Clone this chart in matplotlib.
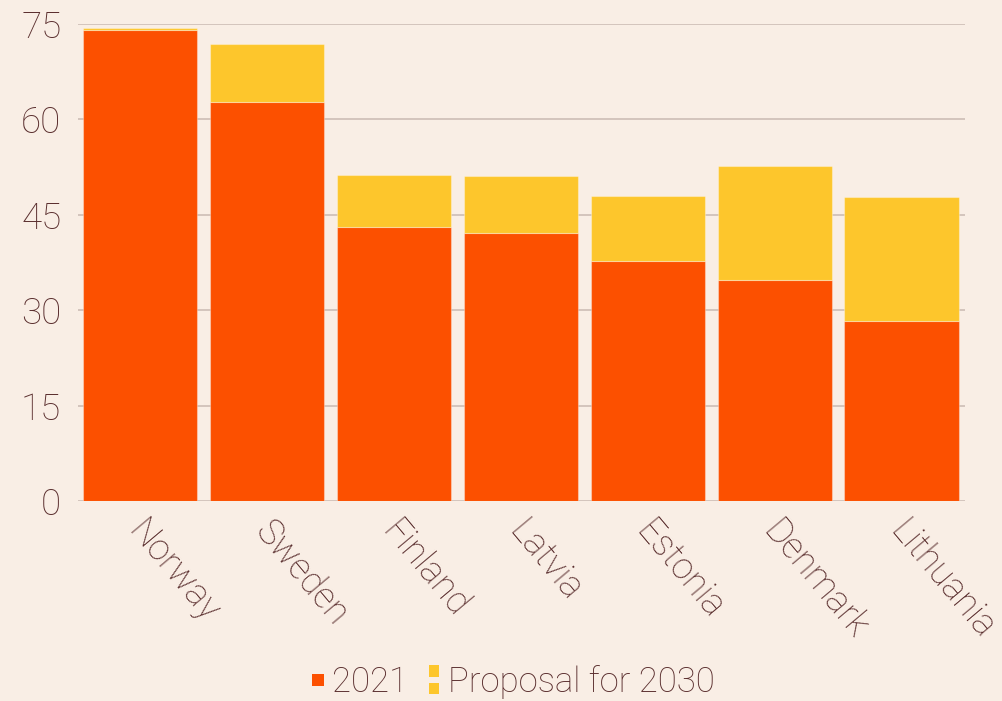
import matplotlib.pyplot as plt
from matplotlib.patches import Patch, Rectangle
from matplotlib.legend_handler import HandlerBase
from matplotlib.transforms import ScaledTranslation

countries = ['Norway', 'Sweden', 'Finland', 'Latvia', 'Estonia', 'Denmark', 'Lithuania']
share_2021 = [74.1, 62.7, 43.1, 42.1, 37.7, 34.7, 28.3]
proposal_2030 = [74.3, 71.9, 51.3, 51.1, 48.0, 52.7, 47.8]
yticks = [0, 15, 30, 45, 60, 75]

BG = '#F9EEE5'
ORANGE = '#FC5000'
YELLOW = '#FDC62C'
TEXT = '#5A2E2E'
GRID = '#CDBDB5'

plt.rcParams['font.family'] = ['Roboto', 'DejaVu Sans']
plt.rcParams['font.weight'] = 'light'


class SquareHandler(HandlerBase):
    # small square marker, optionally split in two like the original legend
    def __init__(self, split=False):
        super().__init__()
        self.split = split

    def create_artists(self, legend, orig_handle, xdescent, ydescent, width, height, fontsize, trans):
        c = orig_handle.get_facecolor()
        s = 8.5
        cy = height / 2 - ydescent
        if not self.split:
            return [Rectangle((0, cy - s / 2), s, s, facecolor=c, edgecolor='none', transform=trans)]
        w, h, gap = 7.5, 8, 4.5
        return [Rectangle((0, cy + gap / 2), w, h, facecolor=c, edgecolor='none', transform=trans),
                Rectangle((0, cy - gap / 2 - h), w, h, facecolor=c, edgecolor='none', transform=trans)]


fig = plt.figure(figsize=(10.03, 7.01), dpi=100, facecolor=BG)
ax = fig.add_axes([78 / 1003, 200 / 701, (965 - 78) / 1003, 477 / 701])
ax.set_facecolor(BG)

x = range(len(countries))
extra = [p - s for p, s in zip(proposal_2030, share_2021)]
ax.bar(x, share_2021, width=0.9, color=ORANGE, edgecolor='#FFFFFF55', linewidth=0.8, zorder=3)
ax.bar(x, extra, bottom=share_2021, width=0.9, color=YELLOW, edgecolor='#FFFFFF55', linewidth=0.8, zorder=3)

ax.set_xlim(-0.49, 6.5)
ax.set_ylim(0, 75)
ax.set_yticks(yticks)
ax.yaxis.grid(True, color=GRID, linewidth=1.2, zorder=0)
ax.tick_params(axis='y', length=0, pad=12, labelsize=26.5, labelcolor=TEXT)
ax.tick_params(axis='x', length=0)
for s in ax.spines.values():
    s.set_visible(False)

ax.set_xticks(list(x))
ax.set_xticklabels(countries, rotation=-50, ha='left', va='top', rotation_mode='anchor',
                   fontsize=26, color=TEXT)
offset = ScaledTranslation(8 / 100, -8 / 100, fig.dpi_scale_trans)
for lbl in ax.get_xticklabels():
    lbl.set_transform(lbl.get_transform() + offset)

h_2021 = Patch(color=ORANGE, label='2021')
h_2030 = Patch(color=YELLOW, label='Proposal for 2030')
fig.legend(handles=[h_2021, h_2030], loc='center', bbox_to_anchor=(0.512, 1 - 682 / 701), ncol=2,
           frameon=False, fontsize=25, handlelength=0.345, handleheight=0.5, handletextpad=0.22,
           columnspacing=0.6, labelcolor=TEXT,
           handler_map={h_2021: SquareHandler(), h_2030: SquareHandler(split=True)})

fig.savefig('out.png', dpi=100, facecolor=BG)
